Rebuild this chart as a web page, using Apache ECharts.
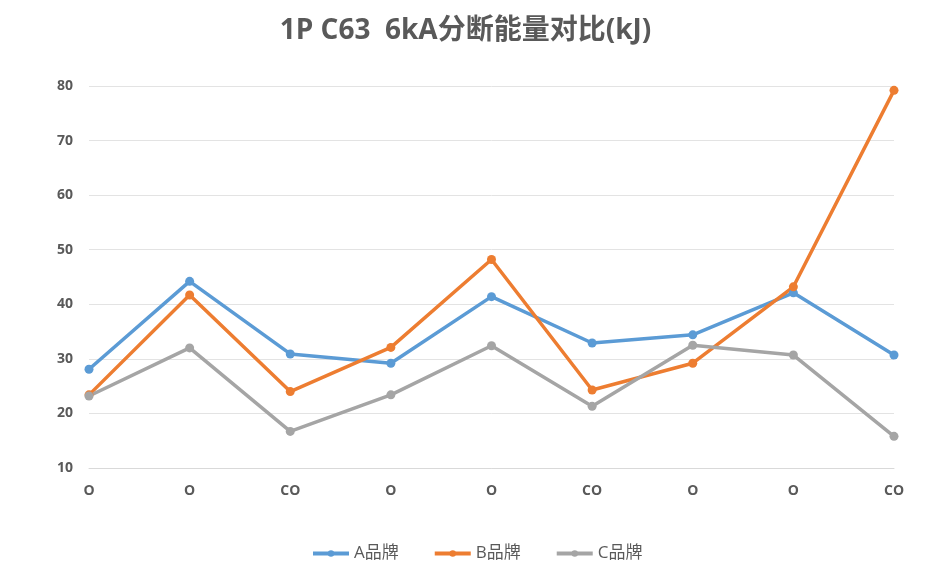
<!DOCTYPE html>
<html>
<head>
<meta charset="utf-8">
<script src="https://cdn.jsdelivr.net/npm/echarts@6/dist/echarts.min.js"></script>
<style>
  html, body { margin: 0; padding: 0; background: #fff; }
  #chart { width: 931px; height: 578px; }
</style>
</head>
<body>
<div id="chart"></div>
<script>
// 横轴类别（操作顺序）
const categories = ["O", "O", "CO", "O", "O", "CO", "O", "O", "CO"];
const seriesNames = ["A品牌", "B品牌", "C品牌"];
const brandA = [28.1, 44.2, 30.9, 29.2, 41.4, 32.9, 34.4, 42.1, 30.7];
const brandB = [23.4, 41.7, 24.0, 32.1, 48.2, 24.3, 29.2, 43.2, 79.2];
const brandC = [23.2, 32.0, 16.7, 23.4, 32.4, 21.3, 32.5, 30.7, 15.8];
const colors = ["#5B9BD5", "#ED7D31", "#A5A5A5"];

const font = '"Open Sans", "Noto Sans CJK SC", sans-serif';
const textColor = "#595959";

const makeSeries = (name, data, color) => ({
  name: name,
  type: "line",
  data: data,
  symbol: "circle",
  symbolSize: 9,
  lineStyle: { width: 3.5, color: color },
  itemStyle: { color: color },
});

const myChart = echarts.init(document.getElementById("chart"));
myChart.setOption({
  animation: false,
  title: {
    text: "1P C63  6kA分断能量对比(kJ)",
    left: "center",
    top: 12,
    textStyle: {
      fontFamily: font,
      fontSize: 28,
      fontWeight: "bold",
      color: textColor,
    },
  },
  legend: {
    bottom: 11,
    left: 306,
    itemWidth: 36,
    itemHeight: 8,
    itemGap: 34,
    data: seriesNames,
    lineStyle: { width: 4 },
    textStyle: { fontFamily: font, fontSize: 17, color: textColor },
  },
  grid: { left: 89, right: 37, top: 86, bottom: 110, containLabel: false },
  xAxis: {
    type: "category",
    data: categories,
    boundaryGap: false,
    axisLine: { lineStyle: { color: "#d9d9d9", width: 1 } },
    axisTick: { show: false },
    axisLabel: {
      fontFamily: font,
      fontSize: 14,
      fontWeight: "bold",
      color: textColor,
      margin: 16,
      interval: 0,
    },
  },
  yAxis: {
    type: "value",
    min: 10,
    max: 80,
    interval: 10,
    axisLine: { show: false },
    axisTick: { show: false },
    splitLine: { lineStyle: { color: "#e3e3e3", width: 1 } },
    axisLabel: {
      fontFamily: font,
      fontSize: 14,
      fontWeight: "bold",
      color: textColor,
      margin: 16,
    },
  },
  series: [
    makeSeries(seriesNames[0], brandA, colors[0]),
    makeSeries(seriesNames[1], brandB, colors[1]),
    makeSeries(seriesNames[2], brandC, colors[2]),
  ],
});
</script>
</body>
</html>
